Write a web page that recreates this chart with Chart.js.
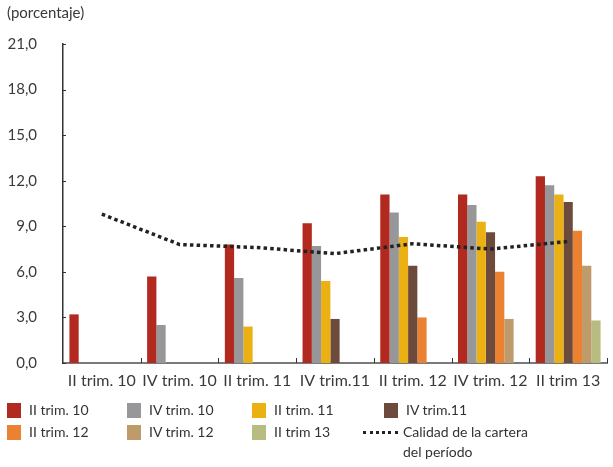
<!DOCTYPE html>
<html lang="es">
<head>
<meta charset="utf-8">
<title>Morosidad por cosecha</title>
<script src="https://cdn.jsdelivr.net/npm/chart.js@4.4.1/dist/chart.umd.min.js"></script>
<style>
  html, body { margin: 0; padding: 0; background: #fff; }
  #wrap { position: relative; width: 613px; height: 467px; font-family: Lato, "Open Sans", sans-serif; color: #333; }
  #chart { position: absolute; left: 0; top: 0; }
  #unit { position: absolute; left: 7px; top: 3px; font-size: 15px; color: #3a3a3a; }
  .lg { position: absolute; font-size: 14px; color: #333; line-height: 20px; white-space: nowrap; }
  .lg .box { position: absolute; left: 0; top: 3px; width: 14px; height: 15px; }
  .lg .txt { position: absolute; left: 22px; top: 0; }
  .lg .dots { position: absolute; left: 0; top: 9px; width: 35px; height: 0; border-top: 3.5px dotted #222; }
</style>
</head>
<body>
<div id="wrap">
  <canvas id="chart" width="613" height="467"></canvas>
  <div id="unit">(porcentaje)</div>
  <div id="legend"></div>
</div>
<script>
// Categories on the x axis (quarter in which the portfolio is observed)
const categories = ['II trim. 10', 'IV trim. 10', 'II trim. 11', 'IV trim.11', 'II trim. 12', 'IV trim. 12', 'II trim 13'];

// One bar series per loan vintage (%)
const vintageLabels = ['II trim. 10', 'IV trim. 10', 'II trim. 11', 'IV trim.11', 'II trim. 12', 'IV trim. 12', 'II trim 13'];
const vintageColors = ['#B1291F', '#97979A', '#EBB112', '#6C4A3C', '#EB8232', '#BE9B6B', '#B9BC80'];

const trim2_10 = [3.2, 5.7, 7.8, 9.2, 11.1, 11.1, 12.3];
const trim4_10 = [null, 2.5, 5.6, 7.7, 9.9, 10.4, 11.7];
const trim2_11 = [null, null, 2.4, 5.4, 8.3, 9.3, 11.1];
const trim4_11 = [null, null, null, 2.9, 6.4, 8.6, 10.6];
const trim2_12 = [null, null, null, null, 3.0, 6.0, 8.7];
const trim4_12 = [null, null, null, null, null, 2.9, 6.4];
const trim2_13 = [null, null, null, null, null, null, 2.8];
const vintageValues = [trim2_10, trim4_10, trim2_11, trim4_11, trim2_12, trim4_12, trim2_13];

// Portfolio quality of each period (%)
const qualityLabel = 'Calidad de la cartera del período';
const qualityValues = [9.8, 7.8, 7.6, 7.2, 7.85, 7.5, 8.0];

// Y axis ticks
const yTicks = [0, 3, 6, 9, 12, 15, 18, 21];

const datasets = vintageValues.map((vals, i) => ({
  type: 'bar',
  label: vintageLabels[i],
  data: vals,
  backgroundColor: vintageColors[i],
  borderWidth: 0,
  barPercentage: 1,
  categoryPercentage: 0.835,
  order: 2
}));
datasets.push({
  type: 'line',
  label: qualityLabel,
  data: qualityValues,
  borderColor: '#222',
  borderWidth: 3.5,
  borderDash: [3.5, 3.2],
  borderCapStyle: 'butt',
  pointRadius: 0,
  tension: 0,
  fill: false,
  order: 0
});

// Short tick marks pointing into the plot area
const innerTicks = {
  id: 'innerTicks',
  afterDatasetsDraw(chart) {
    const { ctx, scales: { x, y }, chartArea } = chart;
    ctx.save();
    ctx.strokeStyle = '#333';
    ctx.lineWidth = 1;
    yTicks.forEach(v => {
      const py = Math.round(y.getPixelForValue(v)) + 0.5;
      ctx.beginPath();
      ctx.moveTo(chartArea.left, py);
      ctx.lineTo(chartArea.left + 3, py);
      ctx.stroke();
    });
    const n = categories.length;
    for (let i = 1; i <= n; i++) {
      const px = i < n
        ? (x.getPixelForValue(i - 1) + x.getPixelForValue(i)) / 2
        : chartArea.right;
      const rx = Math.round(px) + 0.5;
      ctx.beginPath();
      ctx.moveTo(rx, chartArea.bottom);
      ctx.lineTo(rx, chartArea.bottom - 5);
      ctx.stroke();
    }
    ctx.restore();
  }
};

new Chart(document.getElementById('chart'), {
  data: { labels: categories, datasets },
  options: {
    responsive: false,
    animation: false,
    layout: { padding: { top: 44, right: 6, left: 0, bottom: 0 } },
    plugins: { legend: { display: false }, tooltip: { enabled: false }, title: { display: false } },
    scales: {
      x: {
        offset: true,
        grid: { display: false, drawTicks: false },
        border: { display: true, color: '#7a7a7a', width: 2 },
        ticks: { color: '#3a3a3a', font: { family: 'Lato', size: 16 }, padding: 8, maxRotation: 0, autoSkip: false },
        afterFit(s) { s.height = 104; }
      },
      y: {
        min: 0,
        max: 21,
        afterBuildTicks(s) { s.ticks = yTicks.map(v => ({ value: v })); },
        grid: { display: false, drawTicks: false },
        border: { display: true, color: '#333', width: 1.5 },
        ticks: {
          color: '#3a3a3a',
          font: { family: 'Lato', size: 15 },
          padding: 26,
          callback: v => v.toFixed(1).replace('.', ',')
        },
        afterFit(s) { s.width = 63; }
      }
    }
  },
  plugins: [innerTicks]
});

// Legend laid out in four columns below the plot
const legend = document.getElementById('legend');
const colX = [7, 127, 252, 384];
const rowY = [400, 422];
vintageLabels.forEach((lab, i) => {
  const d = document.createElement('div');
  d.className = 'lg';
  d.style.left = colX[i % 4] + 'px';
  d.style.top = rowY[Math.floor(i / 4)] + 'px';
  d.innerHTML = '<span class="box" style="background:' + vintageColors[i] + '"></span><span class="txt">' + lab + '</span>';
  legend.appendChild(d);
});
const q = document.createElement('div');
q.className = 'lg';
q.style.left = '363px';
q.style.top = '422px';
const words = qualityLabel.split(' ');
q.innerHTML = '<span class="dots"></span><span class="txt" style="left:40px">' +
  words.slice(0, 4).join(' ') + '<br>' + words.slice(4).join(' ') + '</span>';
legend.appendChild(q);
</script>
</body>
</html>
